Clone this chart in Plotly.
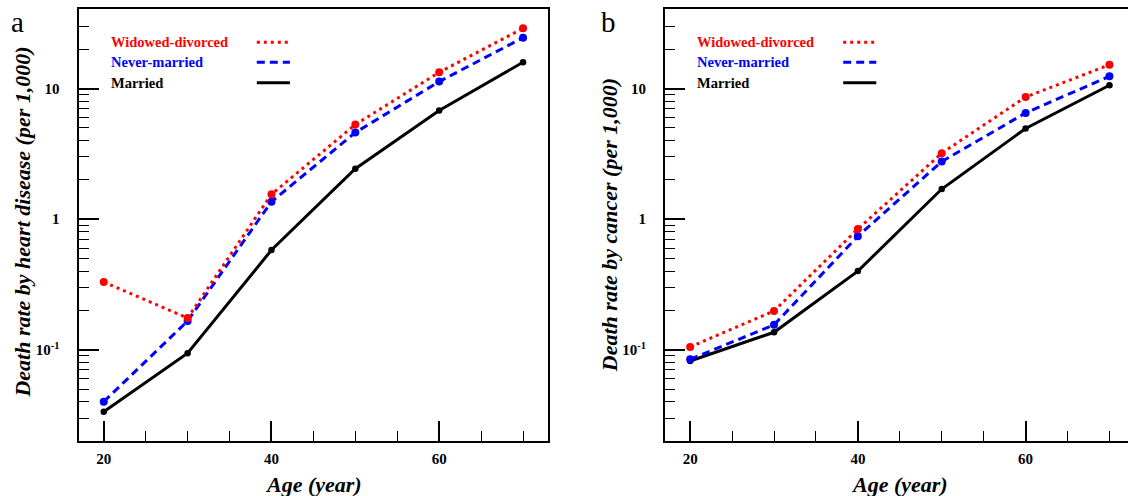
import math
import plotly.graph_objects as go

# Age groups (years)
ages = [20, 30, 40, 50, 60, 70]

# Death rate by heart disease, per 1,000
heart_widowed = [0.33, 0.175, 1.55, 5.3, 13.3, 28.9]
heart_never = [0.040, 0.166, 1.36, 4.6, 11.3, 24.5]
heart_married = [0.0335, 0.094, 0.58, 2.43, 6.8, 15.9]

# Death rate by cancer, per 1,000
cancer_widowed = [0.105, 0.198, 0.84, 3.2, 8.6, 15.2]
cancer_never = [0.0845, 0.155, 0.74, 2.76, 6.5, 12.4]
cancer_married = [0.082, 0.136, 0.40, 1.70, 4.94, 10.6]

group_names = ["Married", "Never-married", "Widowed-divorced"]
group_colors = ["black", "blue", "red"]
group_dash = ["solid", "8px,5px", "3px,4px"]
group_msize = [6.5, 8, 8]

y_major = [0.1, 1, 10]
y_major_text = ["10<sup>-1</sup>", "1", "10"]
y_minor = [0.03, 0.04, 0.05, 0.06, 0.07, 0.08, 0.09,
           0.2, 0.3, 0.4, 0.5, 0.6, 0.7, 0.8, 0.9,
           2, 3, 4, 5, 6, 7, 8, 9, 20, 30]
x_major = [20, 40, 60]
x_minor = [25, 30, 35, 45, 50, 55, 65, 70]

W, H = 1128, 496
serif = "Liberation Serif"

fig = go.Figure()

panels = [
    ("x", "y", [heart_married, heart_never, heart_widowed]),
    ("x2", "y2", [cancer_married, cancer_never, cancer_widowed]),
]
for xa, ya, series in panels:
    for name, col, dash, ms, vals in zip(group_names, group_colors, group_dash,
                                         group_msize, series):
        fig.add_trace(go.Scatter(
            x=ages, y=vals, mode="lines+markers", name=name,
            xaxis=xa, yaxis=ya, showlegend=False,
            line=dict(color=col, width=3, dash=dash),
            marker=dict(color=col, size=ms),
        ))

tickfont = dict(family=serif, size=15, color="black", weight="bold")


def xaxis_style(domain, rng, mirror):
    return dict(
        domain=domain, range=rng, showgrid=False, zeroline=False,
        showline=True, linecolor="black", linewidth=2, mirror=mirror,
        ticks="inside", tickmode="array", tickvals=x_major,
        ticklen=20, tickwidth=1.5, tickcolor="black",
        minor=dict(ticks="inside", tickmode="array", tickvals=x_minor,
                   ticklen=10, tickwidth=1, tickcolor="black"),
        tickfont=tickfont, ticklabelstandoff=3, automargin=False,
    )


def yaxis_style(anchor, mirror):
    return dict(
        type="log", domain=[1 - 441 / H, 1 - 8.5 / H],
        range=[math.log10(0.02), math.log10(41)], anchor=anchor,
        showgrid=False, zeroline=False,
        showline=True, linecolor="black", linewidth=2, mirror=mirror,
        ticks="inside", tickmode="array", tickvals=y_major,
        ticktext=y_major_text, ticklen=20, tickwidth=1.5, tickcolor="black",
        minor=dict(ticks="inside", tickmode="array", tickvals=y_minor,
                   ticklen=10, tickwidth=1, tickcolor="black"),
        tickfont=tickfont, ticklabelstandoff=14, automargin=False,
    )


fig.update_layout(
    width=W, height=H,
    margin=dict(l=0, r=0, t=0, b=0),
    paper_bgcolor="white", plot_bgcolor="white",
    xaxis=xaxis_style([78.6 / W, 548.2 / W], [17, 73], True) | dict(anchor="y"),
    yaxis=yaxis_style("x", True),
    xaxis2=xaxis_style([665 / W, 1.0], [17, 17 + 463 / 8.386], True) | dict(anchor="y2"),
    yaxis2=yaxis_style("x2", False),
)

title_font = dict(family=serif, size=22, color="black", weight="bold", style="italic")
legend_font = dict(family=serif, size=14.5, weight="bold")

annotations = []
shapes = []
panel_info = [
    ("x", "y", "a", 17 / W, "Death rate by heart disease (per 1,000)", 23 / W, 0.505),
    ("x2", "y2", "b", 608 / W, "Death rate by cancer (per 1,000)", 609 / W, 0.499),
]
for xa, ya, letter, lx, ytitle, tx, ty in panel_info:
    annotations.append(dict(
        text=letter, xref="paper", yref="paper", x=lx, y=1 - 22 / H,
        xanchor="center", yanchor="middle", showarrow=False,
        font=dict(family=serif, size=29, color="black"),
    ))
    annotations.append(dict(
        text=ytitle, xref="paper", yref=f"{ya} domain", x=tx, y=ty,
        xanchor="center", yanchor="middle", textangle=-90, showarrow=False,
        font=title_font,
    ))
    annotations.append(dict(
        text="Age (year)", xref=xa, yref="paper", x=45, y=1 - 484 / H,
        xanchor="center", yanchor="middle", showarrow=False, font=title_font,
    ))
    # legend entries: label on the left, line sample on the right
    legend_rows = [("Widowed-divorced", "red", "3px,4px", 0.922),
                   ("Never-married", "blue", "8px,5px", 0.876),
                   ("Married", "black", "solid", 0.8285)]
    for label, col, dash, ly in legend_rows:
        annotations.append(dict(
            text=label, xref=xa, yref=f"{ya} domain", x=20.6, y=ly,
            xanchor="left", yanchor="middle", showarrow=False,
            font=legend_font | dict(color=col),
        ))
        shapes.append(dict(
            type="line", xref=xa, yref=f"{ya} domain",
            x0=38.25, x1=42.2, y0=ly, y1=ly,
            line=dict(color=col, width=3, dash=dash),
        ))

fig.update_layout(annotations=annotations, shapes=shapes)

fig.write_html("out.html")
